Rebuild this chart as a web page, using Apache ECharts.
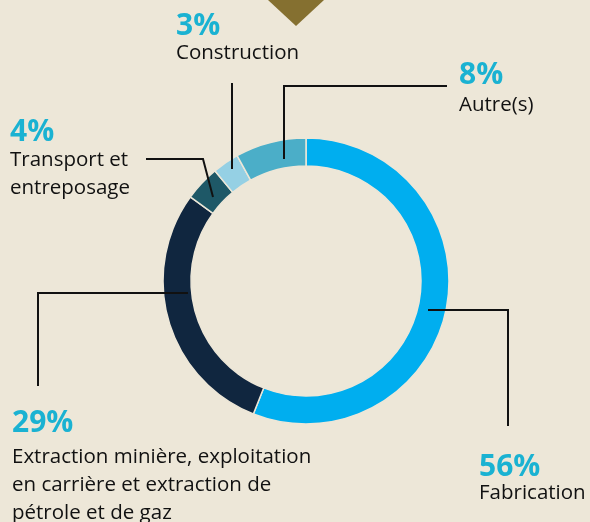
<!DOCTYPE html>
<html lang="fr">
<head>
<meta charset="UTF-8">
<script src="https://cdn.jsdelivr.net/npm/echarts@6/dist/echarts.min.js"></script>
<style>
	html, body { margin: 0; padding: 0; background: #ede7d8; }
	#chart { width: 590px; height: 522px; }
</style>
</head>
<body>
<div id="chart"></div>
<script type="text/javascript">
// secteurs, dans l'ordre horaire depuis midi
var sectors = ['Fabrication', 'Extraction minière, exploitation\nen carrière et extraction de\npétrole et de gaz', 'Transport et\nentreposage', 'Construction', 'Autre(s)'];
var shares = [56, 29, 4, 3, 8];
var colors = ['#00aeef', '#10263f', '#1e5867', '#95d0e4', '#4baec8'];

// coin haut-gauche de chaque étiquette + hauteur de la ligne du pourcentage
var labelPos = [[479, 455, 24], [12, 403, 40], [10, 118, 28], [176, 13, 26], [459, 59, 32]];

// traits de rappel
var leaders = [
	[[428, 310], [508, 310], [508, 426]],
	[[188, 293], [38, 293], [38, 386]],
	[[213, 197], [203, 159], [146, 159]],
	[[232, 169], [232, 83]],
	[[284, 159], [284, 86], [447, 86]]
];

var mychar = echarts.init(document.getElementById('chart'));

var graphics = [{
	type: 'polygon',
	shape: { points: [[268, 0], [324, 0], [296, 26]] },
	style: { fill: '#857030' }
}];
leaders.forEach(function (pts) {
	graphics.push({
		type: 'polyline',
		shape: { points: pts },
		style: { stroke: '#111', lineWidth: 2, fill: null },
		z: 10
	});
});

var option = {
	backgroundColor: '#ede7d8',
	animation: false,
	graphic: graphics,
	series: [{
		type: 'pie',
		radius: [115, 143],
		center: [306, 281],
		startAngle: 90,
		clockwise: true,
		silent: true,
		itemStyle: { borderColor: '#ede7d8', borderWidth: 1.5 },
		labelLine: { show: false },
		label: {
			show: true,
			position: 'outside',
			overflow: 'none',
			width: 400,
			formatter: function (p) {
				return '{p|' + p.value + '%}\n{n|' + p.name + '}';
			}
		},
		labelLayout: function (params) {
			var pos = labelPos[params.dataIndex];
			return { x: pos[0], y: pos[1], align: 'left', verticalAlign: 'top', hideOverlap: false };
		},
		data: sectors.map(function (name, i) {
			return {
				name: name,
				value: shares[i],
				itemStyle: { color: colors[i] },
				label: {
					rich: {
						p: { fontFamily: 'Open Sans', fontSize: 30, fontWeight: 'bold', color: '#1ab2d2', lineHeight: labelPos[i][2] },
						n: { fontFamily: 'Open Sans', fontSize: 20.5, color: '#111', lineHeight: 28 }
					}
				}
			};
		})
	}]
};
mychar.setOption(option);
</script>
</body>
</html>
